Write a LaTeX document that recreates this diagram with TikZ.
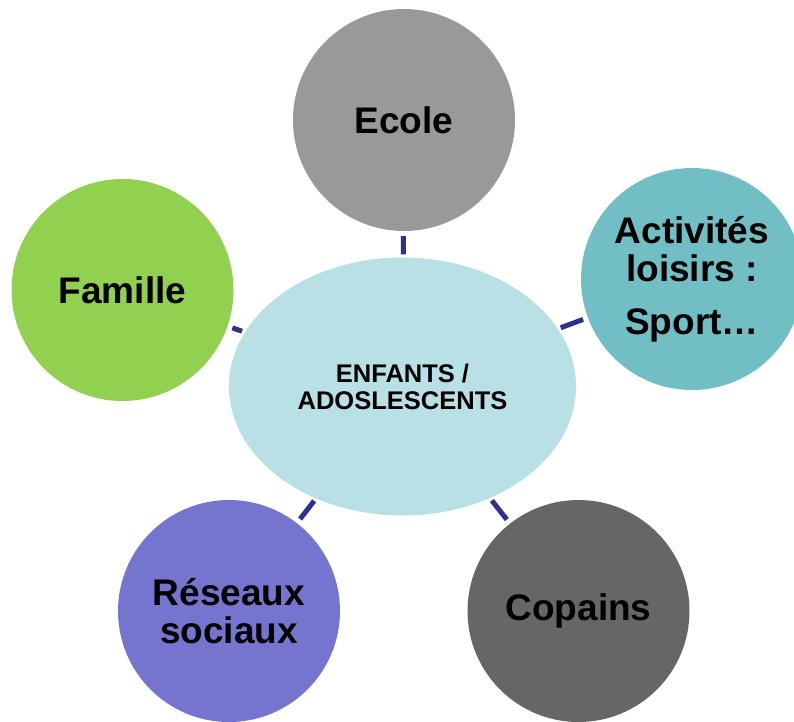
\documentclass[tikz,border=0pt]{standalone}
\usepackage{fontspec}
\setmainfont{Liberation Sans}
\usetikzlibrary{shapes.geometric}
\definecolor{ecolegray}{RGB}{153,153,153}
\definecolor{famgreen}{RGB}{146,208,80}
\definecolor{loisteal}{RGB}{114,190,197}
\definecolor{resviolet}{RGB}{117,116,207}
\definecolor{copgray}{RGB}{102,102,102}
\definecolor{kidblue}{RGB}{185,224,228}
\definecolor{linkblue}{RGB}{46,49,146}

\begin{document}
\begin{tikzpicture}[
  x=1pt, y=-1pt,
  ring/.style={circle, minimum size=222pt, inner sep=0pt, align=center, font=\bfseries\fontsize{37}{38}\selectfont},
  kid/.style={ellipse, fill=kidblue, minimum width=347pt, minimum height=258pt, inner sep=0pt, align=center, font=\bfseries\fontsize{25.5}{27}\selectfont},
  link/.style={draw=linkblue, line width=5pt, shorten <=3pt, shorten >=5pt}
]
\useasboundingbox (0,0) rectangle (794,721);

\node[kid] (k0) at (402.5,386.5) {ENFANTS /\\ADOSLESCENTS};
\node[ring, fill=ecolegray] (k1) at (404,120) {Ecole};
\node[ring, fill=famgreen] (k2) at (122.5,290) {Famille};
\node[ring, fill=loisteal] (k3) at (692,279) {Activités\\loisirs :\\[15pt]Sport…};
\node[ring, fill=resviolet] (k4) at (229,611) {Réseaux\\sociaux};
\node[ring, fill=copgray] (k5) at (578.5,611) {Copains};

% short links from the centre
\foreach \i in {1,...,5}
  \draw[link] (k0) -- (k\i);
\end{tikzpicture}
\end{document}
